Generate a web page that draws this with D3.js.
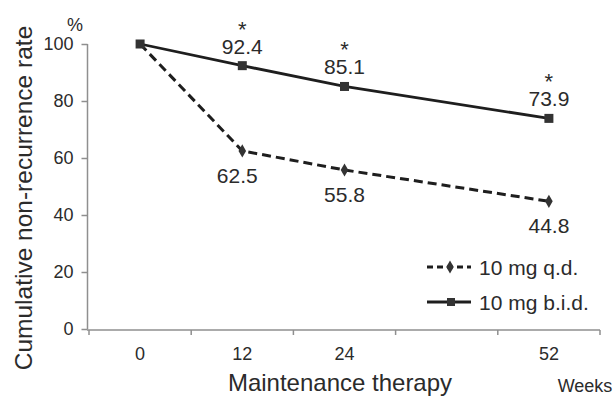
<!DOCTYPE html>
<html>
<head>
<meta charset="utf-8">
<script src="https://cdn.jsdelivr.net/npm/d3@7"></script>
<style>
  body { margin: 0; background: #fff; }
  text { font-family: "Liberation Sans", Arial, sans-serif; fill: #2b2b2b; }
</style>
</head>
<body>
<div id="chart"></div>
<script>
// x slots: the blank slot keeps the gap between 24 and 52 weeks
const weekSlots = ["0", "12", "24", "", "52"];
const weeks = ["0", "12", "24", "52"];
const qdValues = [100, 62.5, 55.8, 44.8];
const bidValues = [100, 92.4, 85.1, 73.9];
const yTicks = [0, 20, 40, 60, 80, 100];

const width = 616, height = 396;
const margin = { left: 89, right: 16, top: 44, bottom: 67 };

const svg = d3.select("#chart").append("svg")
    .attr("width", width)
    .attr("height", height);

const x = d3.scaleBand()
    .domain(weekSlots)
    .range([margin.left, width - margin.right]);

const y = d3.scaleLinear()
    .domain([0, 100])
    .range([height - margin.bottom, margin.top]);

const cx = w => x(w) + x.bandwidth() / 2;
const axisColor = "#8f8f8f";

// y axis
const yAxis = svg.append("g")
    .attr("transform", `translate(${margin.left - 1.5},0)`)
    .call(d3.axisLeft(y).tickValues(yTicks).tickSize(6).tickPadding(8));
yAxis.select(".domain").attr("stroke", axisColor).attr("stroke-width", 1.5)
    .attr("d", `M0,${y(0)}V${y(100)}`);
yAxis.selectAll(".tick line").attr("stroke", axisColor).attr("stroke-width", 1.5);
yAxis.selectAll(".tick text").style("font-size", "18px").attr("fill", "#2b2b2b")
    .style("font-family", "Liberation Sans, Arial, sans-serif");

// x axis: ticks sit on band boundaries
const xAxisY = y(0) + 1;
const xg = svg.append("g");
xg.append("line")
    .attr("x1", margin.left - 2).attr("x2", width - margin.right)
    .attr("y1", xAxisY).attr("y2", xAxisY)
    .attr("stroke", axisColor).attr("stroke-width", 1.5);
const bounds = weekSlots.map(w => x(w)).concat([x.range()[1]]);
xg.selectAll(".xt").data(bounds).enter().append("line")
    .attr("x1", d => d).attr("x2", d => d)
    .attr("y1", xAxisY).attr("y2", xAxisY + 5)
    .attr("stroke", axisColor).attr("stroke-width", 1.5);
xg.selectAll(".xl").data(weeks).enter().append("text")
    .attr("x", d => cx(d)).attr("y", 360)
    .attr("text-anchor", "middle")
    .style("font-size", "18px")
    .text(d => d);

// axis titles
svg.append("text")
    .attr("transform", `translate(32,198) rotate(-90)`)
    .attr("text-anchor", "middle")
    .style("font-size", "24.5px")
    .text("Cumulative non-recurrence rate");
svg.append("text")
    .attr("x", 75).attr("y", 31)
    .attr("text-anchor", "middle")
    .style("font-size", "18px")
    .text("%");
svg.append("text")
    .attr("x", 340).attr("y", 391)
    .attr("text-anchor", "middle")
    .style("font-size", "24px")
    .text("Maintenance therapy");
svg.append("text")
    .attr("x", 585).attr("y", 392)
    .attr("text-anchor", "middle")
    .style("font-size", "18px")
    .text("Weeks");

const lineColor = "#1e1e1e";
const line = d3.line().x(d => cx(d[0])).y(d => y(d[1]));

const qd = weeks.map((w, i) => [w, qdValues[i]]);
const bid = weeks.map((w, i) => [w, bidValues[i]]);

svg.append("path").datum(qd)
    .attr("d", line).attr("fill", "none")
    .attr("stroke", lineColor).attr("stroke-width", 3)
    .attr("stroke-dasharray", "9,5");
svg.append("path").datum(bid)
    .attr("d", line).attr("fill", "none")
    .attr("stroke", lineColor).attr("stroke-width", 2.8);

const diamond = d3.symbol().type(d3.symbolDiamond).size(50);
svg.selectAll(".qdm").data(qd.slice(1)).enter().append("path")
    .attr("d", diamond)
    .attr("transform", d => `translate(${cx(d[0])},${y(d[1])})`)
    .attr("fill", "#333");
svg.selectAll(".bidm").data(bid).enter().append("rect")
    .attr("x", d => cx(d[0]) - 4.5).attr("y", d => y(d[1]) - 4.5)
    .attr("width", 9).attr("height", 9)
    .attr("fill", "#333");

// value labels
const qdLabelDx = [0, -5, 0, 0];
svg.selectAll(".qdl").data(qd).enter().filter((d, i) => i > 0).append("text")
    .attr("x", (d, i) => cx(d[0]) + qdLabelDx[i + 1])
    .attr("y", d => y(d[1]) + 32)
    .attr("text-anchor", "middle")
    .style("font-size", "21px")
    .text(d => d[1].toFixed(1));

// b.i.d. labels: significance star and value as two lines of one text
const bidL = bid.slice(1);
const bl = svg.selectAll(".bidl").data(bidL).enter().append("text")
    .attr("text-anchor", "middle")
    .style("font-size", "21px");
bl.append("tspan")
    .attr("x", d => cx(d[0])).attr("y", d => y(d[1]) - 29)
    .style("font-size", "22px")
    .text("*");
bl.append("tspan")
    .attr("x", d => cx(d[0])).attr("y", d => y(d[1]) - 12)
    .text(d => d[1].toFixed(1));

// legend
const legend = [
  { label: "10 mg q.d.", dash: "6,4", marker: "diamond", yy: 267 },
  { label: "10 mg b.i.d.", dash: null, marker: "square", yy: 302 }
];
const lg = svg.selectAll(".lg").data(legend).enter().append("g");
lg.append("line")
    .attr("x1", 427).attr("x2", 471)
    .attr("y1", d => d.yy).attr("y2", d => d.yy)
    .attr("stroke", lineColor).attr("stroke-width", 3)
    .attr("stroke-dasharray", d => d.dash);
lg.filter(d => d.marker === "diamond").append("path")
    .attr("d", diamond)
    .attr("transform", d => `translate(450,${d.yy})`)
    .attr("fill", "#333");
lg.filter(d => d.marker === "square").append("rect")
    .attr("x", 447).attr("y", d => d.yy - 4)
    .attr("width", 8).attr("height", 8)
    .attr("fill", "#333");
lg.append("text")
    .attr("x", 479).attr("y", d => d.yy + 8)
    .style("font-size", "21px")
    .text(d => d.label);
</script>
</body>
</html>
